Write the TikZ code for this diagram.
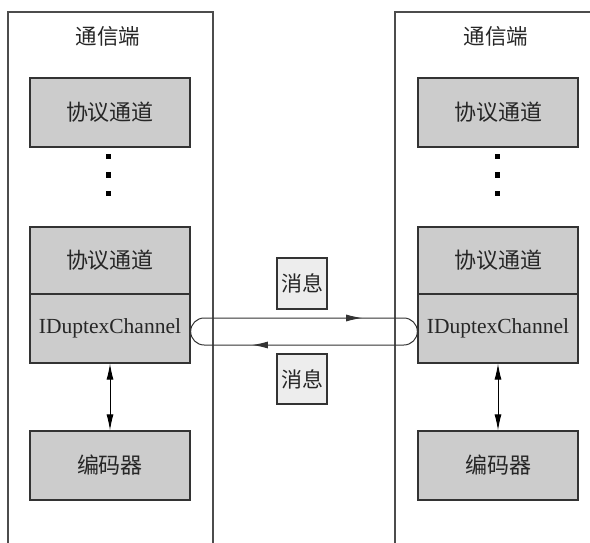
\documentclass[tikz,border=0pt]{standalone}
\usepackage{fontspec}
\setmainfont{Liberation Serif}
\newfontfamily\cjk{Noto Sans CJK SC}
\usetikzlibrary{arrows.meta,decorations.markings}

\begin{document}
\begin{tikzpicture}[x=1pt,y=-1pt,
  frame/.style={draw=black!70,line width=1.3pt},
  block/.style={draw=black!80,line width=1.3pt,fill=black!20,minimum width=160pt,
    inner sep=0pt,text=black!85,font=\cjk\fontsize{22}{26}\selectfont},
  msg/.style={draw=black!80,line width=1.2pt,fill=black!7,minimum width=50pt,
    inner sep=0pt,text=black!85,font=\cjk\fontsize{21}{25}\selectfont},
  title/.style={font=\cjk\fontsize{21.5}{25}\selectfont,text=black!85,inner sep=0pt},
  latin/.style={font=\fontsize{21.5}{25}\selectfont},
  dot/.style={fill=black,minimum size=5pt,inner sep=0pt},
  link/.style={draw=black!80,line width=1pt},
  both/.style={{Latex[length=16pt,width=7pt]}-{Latex[length=16pt,width=7pt]},line width=0.9pt}
]
\useasboundingbox (0,0) rectangle (590,543);

% the two endpoints
\draw[frame] (8,543) -- (8,12) -- (213,12) -- (213,543);
\draw[frame] (395,543) -- (395,12) -- (590,12);

\node[title] (tL) at (108,36) {通信端};
\node[title] (tR) at (496,36) {通信端};

% left endpoint stack
\node[block,minimum height=69pt] (p1L) at (110,112.5) {协议通道};
\node[dot] (d1L) at (108,157) {};
\node[dot] (d2L) at (108,175) {};
\node[dot] (d3L) at (108,193) {};
\node[block,minimum height=67pt] (p2L) at (110,260.5) {协议通道};
\node[block,latin,minimum height=69pt] (idL) at (110,328.5) {IDuptexChannel};
\node[block,minimum height=69pt] (encL) at (110,465.5) {编码器};

% right endpoint stack
\node[block,minimum height=69pt] (p1R) at (498,112.5) {协议通道};
\node[dot] (d1R) at (497,157) {};
\node[dot] (d2R) at (497,175) {};
\node[dot] (d3R) at (497,193) {};
\node[block,minimum height=67pt] (p2R) at (498,260.5) {协议通道};
\node[block,latin,minimum height=69pt] (idR) at (498,328.5) {IDuptexChannel};
\node[block,minimum height=69pt] (encR) at (498,465.5) {编码器};

% channel to encoder
\draw[both] (idL) -- (encL);
\draw[both] (idR) -- (encR);

% messages
\node[msg,minimum height=51pt] (m1) at (302,283.5) {消息};
\node[msg,minimum height=50pt] (m2) at (302,379) {消息};

% duplex loop between the two channels
\coordinate (lA) at ([yshift=-3pt]idL.east);
\coordinate (rA) at ([yshift=-3pt]idR.west);
\draw[link,postaction={decorate},decoration={markings,
    mark=at position 158pt with {\arrow{Latex[length=16pt,width=7pt]}},
    mark=at position 394pt with {\arrow{Latex[length=16pt,width=7pt]}}}]
  ([shift={(13.5pt,13.5pt)}]lA) -- ([shift={(-13.5pt,13.5pt)}]rA)
  arc[start angle=90,end angle=-90,radius=13.5pt]
  -- ([shift={(13.5pt,-13.5pt)}]lA)
  arc[start angle=270,end angle=90,radius=13.5pt];
\end{tikzpicture}
\end{document}
